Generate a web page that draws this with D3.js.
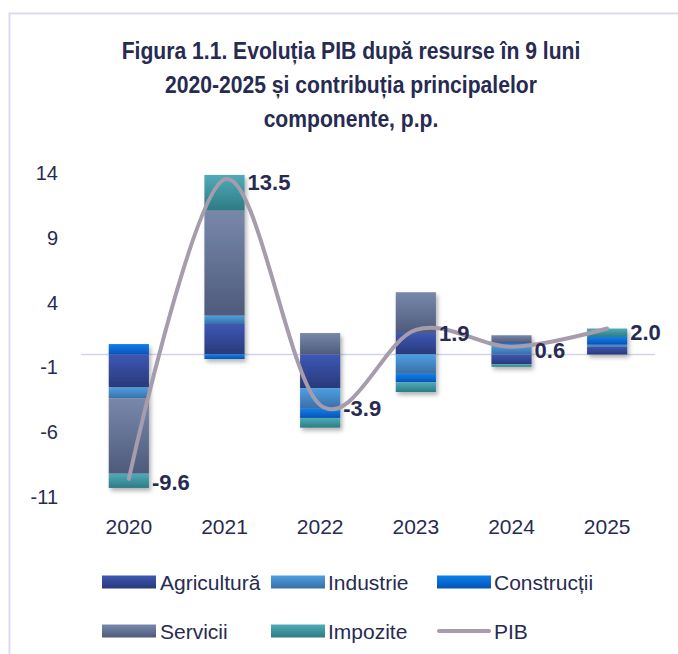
<!DOCTYPE html>
<html>
<head>
<meta charset="utf-8">
<script src="https://cdn.jsdelivr.net/npm/d3@7"></script>
<style>
  body { margin: 0; background: #fff; }
  svg { display: block; }
</style>
</head>
<body>
<svg id="chart" width="678" height="654"></svg>
<script>
// values, p.p.
var years = ["2020", "2021", "2022", "2023", "2024", "2025"];
var agricultura = [-2.55, 2.35, -2.6, 1.65, -0.75, 0.6];
var industrie   = [-0.85, 0.65, -1.6, -1.5, 0.75, 0.15];
var constructii = [0.8, -0.35, -0.7, -0.65, 0.13, 0.6];
var servicii    = [-5.8, 8.1, 1.65, 3.15, 0.6, 0];
var impozite    = [-1.1, 2.75, -0.75, -0.75, -0.2, 0.65];
var pib         = [-9.6, 13.5, -3.9, 1.9, 0.6, 2.0];
var pibLabels   = ["-9.6", "13.5", "-3.9", "1.9", "0.6", "2.0"];
var yTicks      = [14, 9, 4, -1, -6, -11];

var keys = ["Agricultură", "Industrie", "Construcții", "Servicii", "Impozite"];
var series = [agricultura, industrie, constructii, servicii, impozite];
var grads = [["#3d58b4", "#29397a"], ["#4d9fe2", "#3a6ea6"], ["#0a80ee", "#0652b4"],
             ["#7888ab", "#4e5a7c"], ["#4eacb8", "#2e7a84"]];
var ink = "#272b52";

var rows = years.map(function(y, i) {
  var r = { year: y };
  keys.forEach(function(k, j) { r[k] = series[j][i]; });
  return r;
});

var svg = d3.select("#chart");

// frame
svg.append("rect")
    .attr("x", 9.5).attr("y", 13.5)
    .attr("width", 720).attr("height", 700)
    .attr("fill", "none")
    .attr("stroke", "#dcdcf0")
    .attr("stroke-width", 2);

var defs = svg.append("defs");
grads.forEach(function(g, j) {
  var lg = defs.append("linearGradient")
      .attr("id", "g" + j)
      .attr("x1", 0).attr("y1", 0).attr("x2", 0).attr("y2", 1);
  lg.append("stop").attr("offset", "0%").attr("stop-color", g[0]);
  lg.append("stop").attr("offset", "100%").attr("stop-color", g[1]);
});
var f = defs.append("filter").attr("id", "shadow")
    .attr("x", "-20%").attr("y", "-20%").attr("width", "150%").attr("height", "150%");
f.append("feDropShadow")
    .attr("dx", 2).attr("dy", 3).attr("stdDeviation", 2)
    .attr("flood-color", "#000").attr("flood-opacity", 0.3);

var x = d3.scaleBand()
    .domain(years)
    .range([81, 655])
    .paddingInner(0.58)
    .paddingOuter(0.29);

var y = d3.scaleLinear()
    .domain([-11, 14])
    .range([497, 173]);

// title (condensed look: squeeze horizontally)
var title = ["Figura 1.1. Evoluția PIB după resurse în 9 luni",
             "2020-2025 și contribuția principalelor",
             "componente, p.p."];
svg.append("g")
    .attr("transform", "translate(351,0) scale(0.88,1)")
  .selectAll("text")
    .data(title)
  .enter().append("text")
    .attr("x", 0)
    .attr("y", function(d, i) { return 59 + i * 34; })
    .attr("text-anchor", "middle")
    .attr("font-family", "'Liberation Sans', Arial, sans-serif")
    .attr("font-weight", "bold")
    .attr("font-size", 24)
    .attr("fill", ink)
    .text(function(d) { return d; });

// y tick labels
svg.append("g").selectAll("text")
    .data(yTicks)
  .enter().append("text")
    .attr("x", 58)
    .attr("y", function(d) { return y(d); })
    .attr("dy", "0.35em")
    .attr("text-anchor", "end")
    .attr("font-family", "'Liberation Sans', Arial, sans-serif")
    .attr("font-size", 20)
    .attr("fill", ink)
    .text(function(d) { return d; });

// zero line
svg.append("line")
    .attr("x1", 81).attr("x2", 655)
    .attr("y1", y(0)).attr("y2", y(0))
    .attr("stroke", "#d3d3ec")
    .attr("stroke-width", 1.5);

var stack = d3.stack().keys(keys).offset(d3.stackOffsetDiverging)(rows);

var layers = svg.append("g")
    .attr("filter", "url(#shadow)")
  .selectAll("g")
    .data(stack)
  .enter().append("g")
    .attr("fill", function(d, j) { return "url(#g" + j + ")"; });

layers.selectAll("rect")
    .data(function(d) { return d; })
  .enter().append("rect")
    .attr("x", function(d) { return x(d.data.year); })
    .attr("width", x.bandwidth())
    .attr("y", function(d) { return y(Math.max(d[0], d[1])); })
    .attr("height", function(d) { return Math.abs(y(d[0]) - y(d[1])); });

// x labels
svg.append("g").selectAll("text")
    .data(years)
  .enter().append("text")
    .attr("x", function(d) { return x(d) + x.bandwidth() / 2; })
    .attr("y", 527)
    .attr("dy", "0.35em")
    .attr("text-anchor", "middle")
    .attr("font-family", "'Liberation Sans', Arial, sans-serif")
    .attr("font-size", 21)
    .attr("fill", ink)
    .text(function(d) { return d; });

// PIB line
var line = d3.line()
    .x(function(d, i) { return x(years[i]) + x.bandwidth() / 2; })
    .y(function(d) { return y(d); })
    .curve(d3.curveCardinal.tension(0));

svg.append("path")
    .datum(pib)
    .attr("d", line)
    .attr("fill", "none")
    .attr("stroke", "#a69cac")
    .attr("stroke-width", 4)
    .attr("stroke-linecap", "round");

svg.append("g").selectAll("text")
    .data(pib)
  .enter().append("text")
    .attr("x", function(d, i) { return x(years[i]) + x.bandwidth() + 3; })
    .attr("y", function(d) { return y(d) + 11; })
    .attr("font-family", "'Liberation Sans', Arial, sans-serif")
    .attr("font-weight", "bold")
    .attr("font-size", 22)
    .attr("fill", ink)
    .text(function(d, i) { return pibLabels[i]; });

// legend
var legendItems = keys.concat(["PIB"]);
var lg = svg.append("g").selectAll("g")
    .data(legendItems)
  .enter().append("g")
    .attr("transform", function(d, i) {
      var cx = [102, 271, 437][i % 3], cy = [582, 631][Math.floor(i / 3)];
      return "translate(" + cx + "," + cy + ")";
    });

lg.filter(function(d, i) { return i < 5; })
  .append("rect")
    .attr("x", 0).attr("y", -6.5)
    .attr("width", 54).attr("height", 13)
    .attr("fill", function(d, i) { return "url(#g" + i + ")"; });

lg.filter(function(d, i) { return i === 5; })
  .append("line")
    .attr("x1", 2).attr("x2", 52)
    .attr("stroke", "#a69cac")
    .attr("stroke-width", 4)
    .attr("stroke-linecap", "round");

lg.append("text")
    .attr("x", function(d, i) { return i === 0 || i === 3 ? 58 : 57; })
    .attr("dy", "0.36em")
    .attr("font-family", "'Liberation Sans', Arial, sans-serif")
    .attr("font-size", 21)
    .attr("fill", ink)
    .text(function(d) { return d; });
</script>
</body>
</html>
